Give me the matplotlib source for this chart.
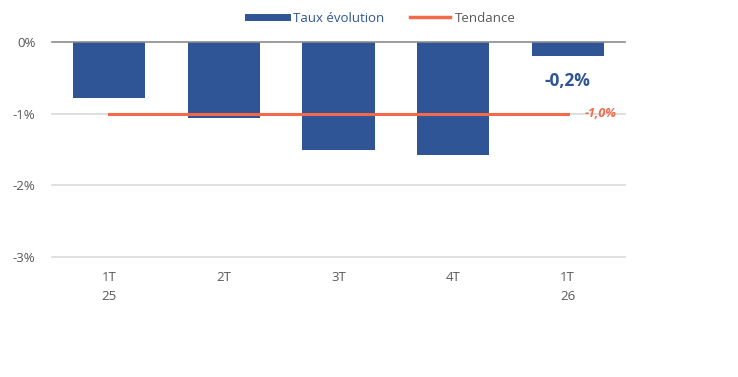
import matplotlib.pyplot as plt
from matplotlib.lines import Line2D

plt.rcParams['font.family'] = ['Open Sans', 'DejaVu Sans']

categories = ['1T\n25', '2T', '3T', '4T', '1T\n26']
taux = [-0.78, -1.06, -1.51, -1.57, -0.2]
tendance = [-1.0, -1.0, -1.0, -1.0, -1.0]
yticks = [0, -1, -2, -3]
ytick_labels = ['0%', '-1%', '-2%', '-3%']

blue = '#2F5597'
coral = '#F4694A'
grey = '#595959'

fig = plt.figure(figsize=(7.38, 3.77), dpi=100)
ax = fig.add_axes([52 / 738, 1 - 257 / 377, 573 / 738, 215 / 377])

x = list(range(len(categories)))
ax.bar(x, taux, width=0.63, color=blue, zorder=2)
ax.plot(x, tendance, color=coral, linewidth=2.2, zorder=3)

# grid + zero line
for v in yticks[1:]:
    ax.axhline(v, color='#D9D9D9', linewidth=1.2, zorder=1, clip_on=False)
ax.axhline(0, color='#8C8C8C', linewidth=1.2, zorder=4, clip_on=False)

ax.set_xlim(-0.5, 4.5)
ax.set_ylim(-3, 0)
ax.set_yticks(yticks)
ax.set_yticklabels(ytick_labels)
ax.set_xticks(x)
ax.set_xticklabels(categories, linespacing=1.6, va='top')
ax.tick_params(axis='both', length=0, colors=grey, labelsize=9.5)
ax.tick_params(axis='x', pad=10)
ax.tick_params(axis='y', pad=12)
for s in ax.spines.values():
    s.set_visible(False)

# labels
ax.text(x[-1], taux[-1] - 0.35, '-0,2%', ha='center', va='center',
        fontsize=12.5, fontweight='bold', color=blue)
ax.text(4.15, tendance[-1], '-1,0%', ha='left', va='center',
        fontsize=9, fontweight='bold', fontstyle='italic', color=coral)

handles = [Line2D([0], [0], color=blue, linewidth=5),
           Line2D([0], [0], color=coral, linewidth=2.5)]
leg = fig.legend(handles, ['Taux évolution', 'Tendance'], loc='center',
                 bbox_to_anchor=(382 / 738, 1 - 18 / 377), ncol=2, frameon=False,
                 fontsize=9.5, handlelength=3.0, handletextpad=0.4, columnspacing=2.0)
leg.get_texts()[0].set_color(blue)
leg.get_texts()[1].set_color(grey)

fig.savefig('out.png', dpi=100)
